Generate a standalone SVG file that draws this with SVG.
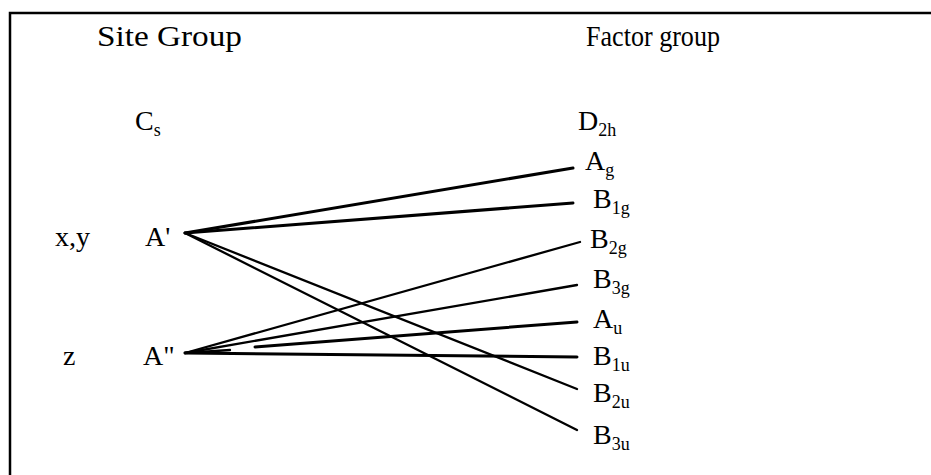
<svg xmlns="http://www.w3.org/2000/svg" width="931" height="475" viewBox="0 0 931 475">
<style>
text{font-family:"Liberation Serif","Times New Roman",serif;fill:#000}
.t{font-size:30px}
.l{font-size:28px}
.s{font-size:18px}
.c{stroke:#000;stroke-width:2.3;fill:none;stroke-linecap:round}
.k{stroke-width:3}
</style>
<rect width="931" height="475" fill="#fff"/>
<path d="M10,475 V13 H931" fill="none" stroke="#000" stroke-width="2.5"/>
<g id="site-title"><text class="t" x="97" y="46" textLength="145" lengthAdjust="spacingAndGlyphs">Site Group</text></g>
<g id="factor-title"><text class="t" x="586" y="46" textLength="134" lengthAdjust="spacingAndGlyphs">Factor group</text></g>
<g id="Cs"><text class="l" x="135" y="130">C<tspan class="s" dy="6">s</tspan></text></g>
<g id="D2h"><text class="l" x="578" y="130">D<tspan class="s" dy="6">2h</tspan></text></g>
<g id="xy"><text class="l" x="55" y="246">x,y</text></g>
<g id="z"><text class="l" x="63" y="365">z</text></g>
<g id="Ap"><text class="l" x="145" y="246">A'</text></g>
<g id="App"><text class="l" x="143" y="365">A"</text></g>
<g id="Ag"><text class="l" x="585" y="170">A<tspan class="s" dy="6">g</tspan></text></g>
<g id="B1g"><text class="l" x="593" y="208">B<tspan class="s" dy="6">1g</tspan></text></g>
<g id="B2g"><text class="l" x="590" y="248">B<tspan class="s" dy="6">2g</tspan></text></g>
<g id="B3g"><text class="l" x="593" y="288">B<tspan class="s" dy="6">3g</tspan></text></g>
<g id="Au"><text class="l" x="593" y="328">A<tspan class="s" dy="6">u</tspan></text></g>
<g id="B1u"><text class="l" x="593" y="365">B<tspan class="s" dy="6">1u</tspan></text></g>
<g id="B2u"><text class="l" x="593" y="402">B<tspan class="s" dy="6">2u</tspan></text></g>
<g id="B3u"><text class="l" x="593" y="444">B<tspan class="s" dy="6">3u</tspan></text></g>
<g id="connectors">
<line class="c k" x1="185" y1="233" x2="573" y2="168"/>
<line class="c k" x1="185" y1="233" x2="573" y2="203"/>
<line class="c" x1="185" y1="233" x2="577" y2="389"/>
<line class="c" x1="185" y1="233" x2="577" y2="430"/>
<line class="c" x1="185" y1="353" x2="580" y2="242"/>
<line class="c" x1="185" y1="353" x2="577" y2="285"/>
<line class="c" x1="185" y1="353" x2="230" y2="350"/>
<line class="c k" x1="255" y1="347" x2="577" y2="322"/>
<line class="c k" x1="185" y1="353" x2="577" y2="357"/>
</g>
</svg>
